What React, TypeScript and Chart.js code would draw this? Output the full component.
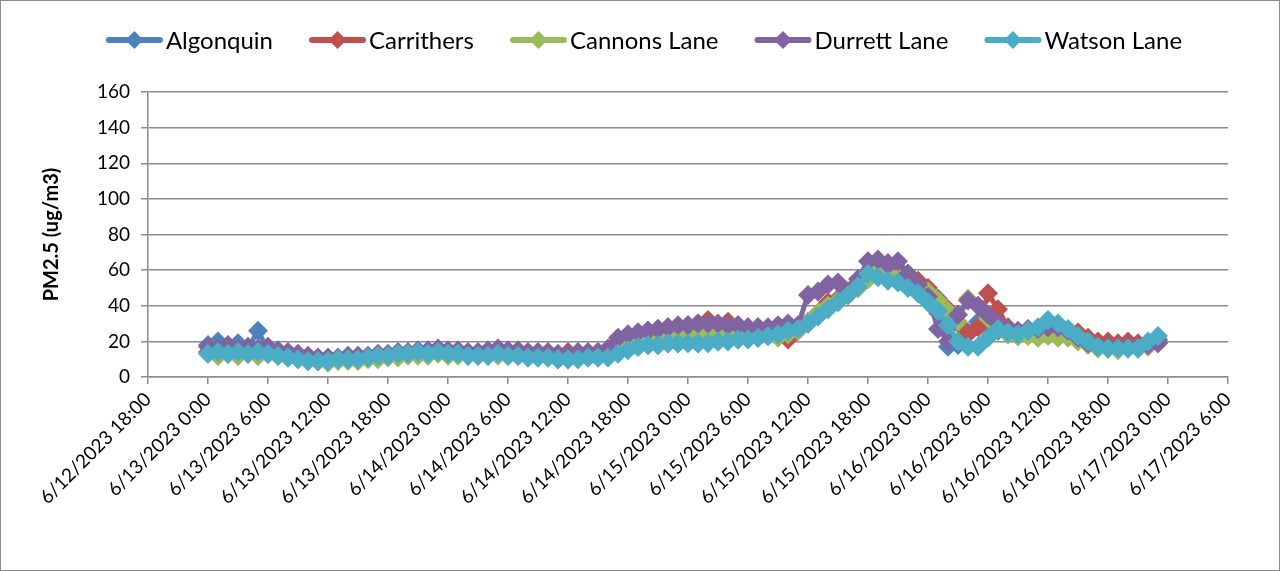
import React, { useEffect, useRef } from "react";
import { Chart, registerables } from "chart.js";
Chart.register(...registerables);

const seriesNames = ["Algonquin", "Carrithers", "Cannons Lane", "Durrett Lane", "Watson Lane"];
const seriesColors = ["#4F81BD", "#C0504D", "#9BBB59", "#8064A2", "#4BACC6"];
const xTickLabels = [
  "6/12/2023 18:00", "6/13/2023 0:00", "6/13/2023 6:00", "6/13/2023 12:00", "6/13/2023 18:00",
  "6/14/2023 0:00", "6/14/2023 6:00", "6/14/2023 12:00", "6/14/2023 18:00",
  "6/15/2023 0:00", "6/15/2023 6:00", "6/15/2023 12:00", "6/15/2023 18:00",
  "6/16/2023 0:00", "6/16/2023 6:00", "6/16/2023 12:00", "6/16/2023 18:00",
  "6/17/2023 0:00", "6/17/2023 6:00",
];
const xTickStepHours = 6;
const xMaxHours = 108; // 6/12/2023 18:00 .. 6/17/2023 6:00
const firstReadingHour = 6; // 6/13/2023 0:00, hourly readings
const yMin = 0;
const yMax = 160;
const yStep = 20;

const algonquin = [
  18, 20, 17, 19, 16, 26, 15, 14, 12, 11,
  10, 9, 9, 10, 10, 10, 11, 12, 12, 13,
  13, 14, 13, 14, 13, 13, 12, 12, 12, 13,
  12, 12, 11, 11, 11, 10, 10, 11, 11, 11,
  12, 14, 16, 17, 18, 18, 19, 19, 20, 19,
  20, 20, 21, 21, 22, 22, 23, 24, 25, 27,
  31, 35, 39, 43, 46, 50, 55, 58, 56, 54,
  52, 49, 45, 36, 17, 18, 25, 31, 28, 26,
  24, 23, 24, 25, 26, 27, 25, 22, 19, 17,
  16, 16, 16, 16, 18, 21,
];
const carrithers = [
  14, 12, 13, 12, 13, 12, 13, 12, 11, 11,
  10, 9, 9, 10, 10, 10, 11, 12, 12, 13,
  13, 14, 14, 15, 14, 14, 13, 13, 14, 14,
  13, 13, 13, 13, 13, 12, 14, 12, 13, 12,
  15, 20, 23, 25, 26, 27, 28, 28, 29, 30,
  32, 29, 31, 29, 28, 28, 27, 25, 21, 26,
  30, 36, 42, 44, 47, 53, 58, 63, 64, 60,
  58, 54, 50, 44, 38, 30, 24, 28, 47, 38,
  28, 25, 25, 24, 25, 26, 26, 25, 22, 20,
  20, 19, 20, 19, 19, 20,
];
const cannonsLane = [
  13, 12, 13, 12, 13, 12, 13, 12, 11, 10,
  9, 9, 8, 9, 9, 9, 10, 10, 11, 11,
  12, 12, 12, 13, 12, 12, 13, 12, 12, 12,
  12, 12, 12, 12, 11, 12, 12, 12, 13, 14,
  15, 18, 20, 21, 22, 23, 24, 24, 25, 25,
  25, 25, 26, 26, 25, 26, 25, 22, 24, 26,
  31, 36, 40, 43, 46, 50, 55, 60, 58, 56,
  54, 51, 48, 43, 37, 31, 44, 40, 33, 28,
  24, 23, 23, 22, 23, 22, 22, 20, 18, 16,
  16, 15, 16, 16, 17, 19,
];
const durrettLane = [
  17, 16, 18, 16, 17, 16, 17, 15, 14, 13,
  12, 11, 11, 11, 12, 12, 12, 13, 13, 14,
  14, 15, 15, 16, 15, 15, 14, 14, 15, 16,
  15, 15, 14, 14, 14, 13, 13, 14, 14, 14,
  16, 22, 24, 25, 26, 27, 28, 29, 29, 30,
  30, 30, 29, 29, 28, 28, 28, 29, 30, 29,
  46, 48, 52, 53, 48, 55, 65, 66, 63, 65,
  58, 52, 45, 27, 20, 35, 43, 40, 35, 30,
  27, 26, 27, 27, 28, 28, 26, 22, 19, 17,
  17, 17, 17, 17, 18, 19,
];
const watsonLane = [
  13, 14, 13, 14, 13, 14, 13, 12, 11, 10,
  9, 9, 9, 10, 10, 10, 11, 12, 12, 13,
  13, 14, 13, 14, 13, 13, 12, 12, 12, 13,
  12, 12, 11, 11, 11, 10, 10, 10, 11, 11,
  11, 13, 15, 17, 18, 18, 19, 19, 19, 19,
  19, 20, 20, 21, 21, 22, 23, 24, 26, 27,
  30, 34, 38, 42, 46, 51, 58, 56, 54, 53,
  50, 47, 42, 37, 29, 20, 17, 17, 22, 27,
  25, 24, 26, 28, 32, 30, 27, 23, 20, 17,
  16, 16, 16, 16, 20, 23,
];
const seriesValues = [algonquin, carrithers, cannonsLane, durrettLane, watsonLane];

const FONT = "Lato, 'Open Sans', sans-serif";
const GRID = "#8c8c8c";

const framePlugin = {
  id: "frame",
  beforeDraw(chart: any) {
    const { ctx, width, height } = chart;
    ctx.save();
    ctx.fillStyle = "#ffffff";
    ctx.fillRect(0, 0, width, height);
    ctx.strokeStyle = "#8c8c8c";
    ctx.lineWidth = 1;
    ctx.strokeRect(0.5, 0.5, width - 1, height - 1);
    ctx.restore();
  },
};

function drawDiamond(ctx: CanvasRenderingContext2D, x: number, y: number, r: number) {
  ctx.beginPath();
  ctx.moveTo(x, y - r);
  ctx.lineTo(x + r, y);
  ctx.lineTo(x, y + r);
  ctx.lineTo(x - r, y);
  ctx.closePath();
  ctx.fill();
}

const legendPlugin = {
  id: "lineLegend",
  afterDraw(chart: any) {
    const ctx: CanvasRenderingContext2D = chart.ctx;
    ctx.save();
    ctx.font = `24px ${FONT}`;
    const sampleW = 57;
    const gapText = 3;
    const gapItem = 36;
    const widths = seriesNames.map((n) => ctx.measureText(n).width);
    const total =
      widths.reduce((a, w) => a + sampleW + gapText + w, 0) + gapItem * (seriesNames.length - 1);
    let x = 644 - total / 2;
    const y = 40;
    seriesNames.forEach((name, i) => {
      const c = seriesColors[i];
      ctx.strokeStyle = c;
      ctx.fillStyle = c;
      ctx.lineWidth = 6;
      ctx.lineCap = "round";
      ctx.beginPath();
      ctx.moveTo(x + 3, y);
      ctx.lineTo(x + sampleW - 3, y);
      ctx.stroke();
      drawDiamond(ctx, x + sampleW / 2, y, 9);
      ctx.fillStyle = "#000000";
      ctx.textBaseline = "middle";
      ctx.textAlign = "left";
      ctx.fillText(name, x + sampleW + gapText, y + 1);
      x += sampleW + gapText + widths[i] + gapItem;
    });
    ctx.restore();
  },
};

export default function App() {
  const canvasRef = useRef<HTMLCanvasElement | null>(null);

  useEffect(() => {
    document.body.style.margin = "0";
    const canvas = canvasRef.current;
    if (!canvas) return;
    const drawOrder = [4, 3, 2, 1, 0];
    const chart = new Chart(canvas, {
      type: "line",
      data: {
        datasets: seriesNames.map((name, i) => ({
          label: name,
          data: seriesValues[i].map((v, k) => ({ x: firstReadingHour + k, y: v })),
          borderColor: seriesColors[i],
          backgroundColor: seriesColors[i],
          borderWidth: 5,
          pointStyle: "rectRot",
          pointRadius: 10,
          pointBorderWidth: 0,
          pointBackgroundColor: seriesColors[i],
          pointBorderColor: seriesColors[i],
          tension: 0,
          order: drawOrder[i],
        })),
      },
      options: {
        animation: false,
        responsive: false,
        maintainAspectRatio: false,
        layout: { padding: { top: 92, right: 52, bottom: 0, left: 0 } },
        plugins: {
          legend: { display: false },
          tooltip: { enabled: false },
        },
        scales: {
          x: {
            type: "linear",
            min: 0,
            max: xMaxHours,
            afterFit(scale: any) {
              scale.height = 194;
            },
            afterBuildTicks(scale: any) {
              scale.ticks = xTickLabels.map((_, k) => ({ value: k * xTickStepHours }));
            },
            ticks: {
              autoSkip: false,
              maxRotation: 45,
              minRotation: 45,
              padding: 4,
              color: "#000000",
              font: { family: FONT, size: 19 },
              callback: (v: any) => xTickLabels[Math.round(Number(v) / xTickStepHours)] ?? "",
            },
            grid: {
              drawOnChartArea: false,
              drawTicks: true,
              tickLength: 7,
              color: GRID,
              lineWidth: 1.5,
            },
            border: { display: true, color: GRID, width: 1.5 },
          },
          y: {
            min: yMin,
            max: yMax,
            afterFit(scale: any) {
              scale.width = 148;
            },
            ticks: {
              stepSize: yStep,
              padding: 11,
              color: "#000000",
              font: { family: FONT, size: 19 },
            },
            grid: {
              color: GRID,
              lineWidth: 1.5,
              tickLength: 7,
            },
            border: { display: true, color: GRID, width: 1.5 },
            title: {
              display: true,
              text: "PM2.5 (ug/m3)",
              color: "#000000",
              font: { family: FONT, size: 20, weight: "bold" },
              padding: { top: 40, bottom: 0 },
            },
          },
        },
      },
      plugins: [framePlugin, legendPlugin],
    } as any);
    return () => chart.destroy();
  }, []);

  return (
    <div style={{ width: 1280, height: 571 }}>
      <canvas ref={canvasRef} width={1280} height={571} style={{ display: "block" }} />
    </div>
  );
}
